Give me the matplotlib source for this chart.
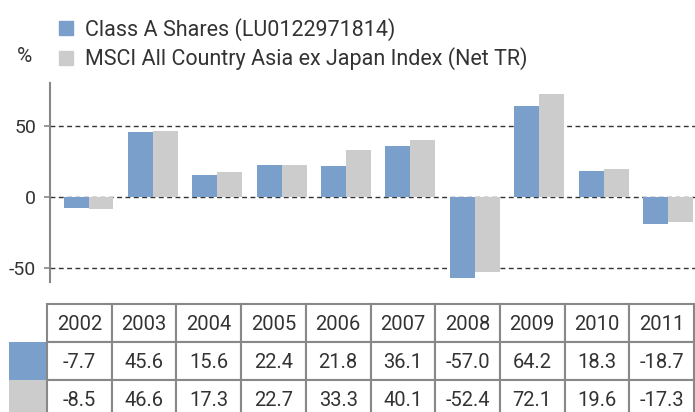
import matplotlib
matplotlib.use("Agg")
import matplotlib.pyplot as plt
from matplotlib.patches import Rectangle
import numpy as np

years = ["2002", "2003", "2004", "2005", "2006", "2007", "2008", "2009", "2010", "2011"]
class_a = [-7.7, 45.6, 15.6, 22.4, 21.8, 36.1, -57.0, 64.2, 18.3, -18.7]
msci = [-8.5, 46.6, 17.3, 22.7, 33.3, 40.1, -52.4, 72.1, 19.6, -17.3]
series_names = ["Class A Shares (LU0122971814)", "MSCI All Country Asia ex Japan Index (Net TR)"]
yticks = [-50, 0, 50]

BLUE = "#7a9fca"
GRAY = "#cccccc"
TXT = "#333333"
LINE = "#888888"

plt.rcParams['font.family'] = ['Roboto', 'DejaVu Sans']
plt.rcParams['font.weight'] = 'normal'

W, H = 695, 412
fig = plt.figure(figsize=(W / 100, H / 100), dpi=100)

def fx(px):
    return px / W

def fy(py):
    return 1 - py / H

# main chart axes
ax_l, ax_r, ax_t, ax_b = 50, 695, 83, 282
ax = fig.add_axes([fx(ax_l), fy(ax_b), fx(ax_r - ax_l), (ax_b - ax_t) / H])
x = np.arange(len(years))
bw = 0.388
ax.bar(x - bw / 2, class_a, width=bw, color=BLUE, zorder=3, label=series_names[0])
ax.bar(x + bw / 2, msci, width=bw, color=GRAY, zorder=3, label=series_names[1])
ax.set_xlim(-0.598, 9.42)
ax.set_ylim(-59.6, 80)
ax.set_yticks(yticks)
ax.set_yticklabels([str(v) for v in yticks], fontsize=14, color=TXT)
ax.set_xticks([])
for v in yticks:
    ax.axhline(v, color="#333333", lw=1.0, ls=(0, (3.5, 2.5)), zorder=1)
for s in ["top", "right", "bottom"]:
    ax.spines[s].set_visible(False)
ax.spines["left"].set_color(LINE)
ax.spines["left"].set_linewidth(1.5)
ax.tick_params(axis="y", length=4, width=1.2, color=LINE, pad=6)

# legend
handles = [Rectangle((0, 0), 1, 1, color=BLUE), Rectangle((0, 0), 1, 1, color=GRAY)]
fig.legend(handles, series_names, loc="upper left", bbox_to_anchor=(fx(59), fy(18)),
           frameon=False, fontsize=15.5, handlelength=0.65, handleheight=0.65,
           handletextpad=0.55, labelspacing=0.3, borderaxespad=0, borderpad=0,
           labelcolor=TXT)
fig.text(fx(25), fy(57), "%", fontsize=15, color=TXT, ha="center", va="center")

# table
tab = fig.add_axes([0, 0, 1, 1])
tab.set_xlim(0, W)
tab.set_ylim(H, 0)
tab.axis("off")
t_left, col_w = 47, 64.7
sw_left = 9
t_top, row_h = 304, 38
rows = [years, ["%.1f" % v for v in class_a], ["%.1f" % v for v in msci]]
for r, vals in enumerate(rows):
    y0 = t_top + r * row_h
    for c, txt in enumerate(vals):
        x0 = t_left + c * col_w
        tab.add_patch(Rectangle((x0, y0), col_w, row_h, facecolor="white",
                                edgecolor=LINE, lw=1.5, zorder=2))
        tab.text(x0 + col_w / 2, y0 + row_h / 2 + 1, txt, ha="center", va="center",
                 fontsize=14.5, color=TXT, zorder=3)
for r, colr in enumerate([BLUE, GRAY]):
    y0 = t_top + (r + 1) * row_h
    tab.add_patch(Rectangle((sw_left, y0), t_left - sw_left, row_h, facecolor=colr,
                            edgecolor="none", zorder=1))

fig.savefig("out.png", dpi=100)
